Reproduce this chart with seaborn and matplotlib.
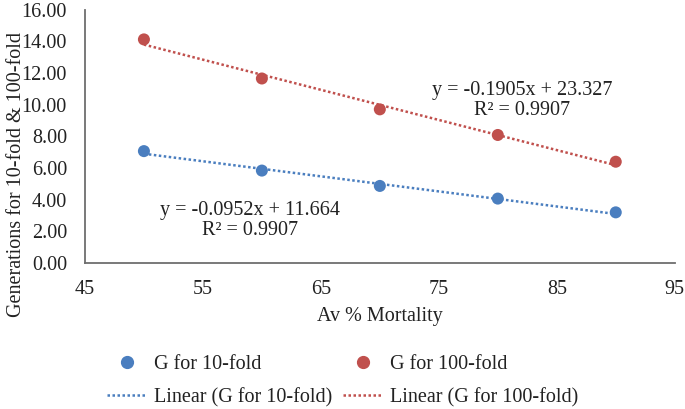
import numpy as np
import pandas as pd
import matplotlib
matplotlib.use("Agg")
import matplotlib.pyplot as plt
import seaborn as sns
from matplotlib.lines import Line2D

mortality = [50, 60, 70, 80, 90]
g10 = [7.07, 5.84, 4.87, 4.07, 3.20]
g100 = [14.13, 11.66, 9.71, 8.09, 6.40]
series_names = ["G for 10-fold", "G for 100-fold"]
trend_names = ["Linear (G for 10-fold)", "Linear (G for 100-fold)"]
slopes = [-0.0952, -0.1905]
intercepts = [11.664, 23.327]
r2 = [0.9907, 0.9907]
colors = ["#4A7EBF", "#C0504D"]
x_ticks = [45, 55, 65, 75, 85, 95]
y_ticks = [0, 2, 4, 6, 8, 10, 12, 14, 16]

sns.set_theme(style="white")
plt.rcParams["font.family"] = ["Liberation Serif", "DejaVu Serif"]

FS = 14.5

df = pd.DataFrame({
    "x": mortality * 2,
    "y": g10 + g100,
    "series": [series_names[0]] * 5 + [series_names[1]] * 5,
})
trend_rows = []
for name, m, b in zip(trend_names, slopes, intercepts):
    for xv in (mortality[0], mortality[-1]):
        trend_rows.append({"x": xv, "y": m * xv + b, "series": name})
tdf = pd.DataFrame(trend_rows)

fig = plt.figure(figsize=(6.85, 4.09), dpi=100)
ax = fig.add_axes([0.124, 0.357, 0.861, 0.619])

sns.lineplot(data=tdf, x="x", y="y", hue="series", palette=colors, ax=ax,
             linestyle=(0, (1, 1)), linewidth=1.8, legend=False)
sns.scatterplot(data=df, x="x", y="y", hue="series", palette=colors, ax=ax,
                s=75, edgecolor="none", legend=False, zorder=3)

ax.set_xlim(45, 95)
ax.set_ylim(0, 16)
ax.set_xticks(x_ticks)
ax.set_yticks(y_ticks)
ax.set_yticklabels([f"{v:.2f}" for v in y_ticks])
ax.tick_params(labelsize=FS, colors="#222222", length=0)
ax.tick_params(axis="x", pad=12)
ax.tick_params(axis="y", pad=13)
ax.set_xlabel("Av % Mortality", fontsize=FS, color="#222222", labelpad=6)
ax.set_ylabel("Generations for 10-fold & 100-fold", fontsize=FS, color="#222222")
ax.yaxis.set_label_coords(-0.1, 0.35)
for side in ["top", "right"]:
    ax.spines[side].set_visible(False)
for side in ["left", "bottom"]:
    ax.spines[side].set_color("#6E6E6E")
    ax.spines[side].set_linewidth(1.3)

ax.text(82.1, 10.26, f"y = {slopes[1]}x + {intercepts[1]}\nR² = {r2[1]}",
        fontsize=FS, ha="center", va="center", color="#222222", linespacing=1.1)
ax.text(59.0, 2.7, f"y = {slopes[0]}x + {intercepts[0]}\nR² = {r2[0]}",
        fontsize=FS, ha="center", va="center", color="#222222", linespacing=1.1)

handles = [
    Line2D([], [], marker="o", linestyle="none", color=colors[0], markersize=8.5),
    Line2D([], [], linestyle=(0, (1, 1)), color=colors[0], linewidth=1.8),
    Line2D([], [], marker="o", linestyle="none", color=colors[1], markersize=8.5),
    Line2D([], [], linestyle=(0, (1, 1)), color=colors[1], linewidth=1.8),
]
labels = [series_names[0], trend_names[0], series_names[1], trend_names[1]]
fig.legend(handles, labels, ncol=2, loc="center", bbox_to_anchor=(0.5, 0.069),
           frameon=False, fontsize=FS, handlelength=2.0, columnspacing=0.5,
           labelspacing=0.7, handletextpad=0.35, labelcolor="#222222")

fig.savefig("out.png", dpi=100)
